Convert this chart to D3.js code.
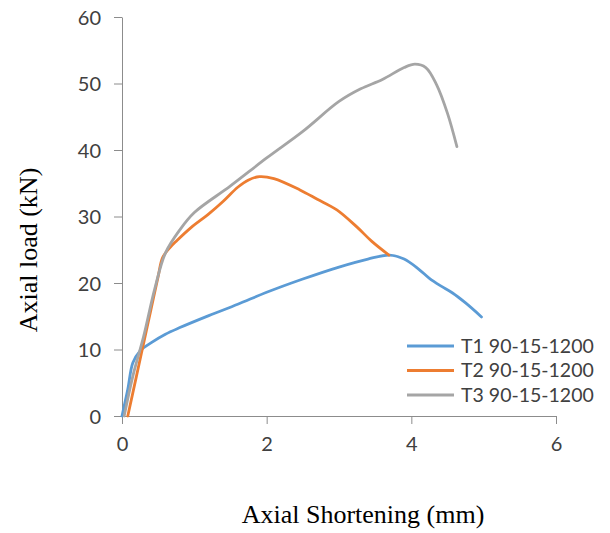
<!DOCTYPE html>
<html>
<head>
<meta charset="utf-8">
<script src="https://cdn.jsdelivr.net/npm/d3@7"></script>
<style>
  body { margin: 0; background: #fff; }
</style>
</head>
<body>
<div id="chart"></div>
<script>
// data: [shortening mm, load kN]
const t1 = [[0,0],[0.08,4],[0.15,8],[0.25,9.8],[0.4,11],[0.6,12.3],[0.8,13.3],[1.2,15.1],[1.6,16.8],[2,18.6],[2.5,20.6],[3,22.4],[3.4,23.6],[3.7,24.2],[3.9,23.6],[4.1,22.1],[4.25,20.7],[4.4,19.6],[4.57,18.5],[4.75,17],[4.97,14.9]]
const t2 = [[0.08,0],[0.2,6],[0.3,11],[0.4,16],[0.5,21],[0.56,23.8],[0.66,25.3],[0.76,26.4],[0.95,28.3],[1.2,30.4],[1.4,32.3],[1.6,34.4],[1.75,35.5],[1.9,36],[2.1,35.7],[2.46,34],[2.7,32.6],[2.97,31],[3.25,28.4],[3.45,26.3],[3.69,24.2]]
const t3 = [[0.03,0],[0.15,6],[0.3,12],[0.45,19],[0.6,24.5],[0.8,28],[1,30.6],[1.5,34.6],[2,38.8],[2.5,42.8],[3,47.3],[3.3,49.2],[3.6,50.6],[3.9,52.4],[4.05,52.9],[4.2,52.4],[4.35,49.8],[4.5,45.5],[4.63,40.5]]
const seriesNames = ["T1 90-15-1200", "T2 90-15-1200", "T3 90-15-1200"]
const colors = ["#5B9BD5", "#ED7D31", "#A5A5A5"]
const xTicks = [0, 2, 4, 6]
const yTicks = [0, 10, 20, 30, 40, 50, 60]

const W = 610, H = 533
const margin = {top: 17, left: 122, right: 54, bottom: 117}
const width = W - margin.left - margin.right,
      height = H - margin.top - margin.bottom

const svg = d3.select("#chart").append("svg")
    .attr("width", W)
    .attr("height", H)

const g = svg.append("g")
    .attr("transform", "translate(" + margin.left + "," + margin.top + ")")

const x = d3.scaleLinear().domain([0, 6]).range([0, width])
const y = d3.scaleLinear().domain([0, 60]).range([height, 0])

const xAxis = g.append("g")
    .attr("transform", `translate(0,${height})`)
    .call(d3.axisBottom(x).tickValues(xTicks).tickFormat(d3.format("d")).tickSize(8).tickSizeOuter(0).tickPadding(13))
const yAxis = g.append("g")
    .call(d3.axisLeft(y).tickValues(yTicks).tickFormat(d3.format("d")).tickSize(8).tickSizeOuter(0).tickPadding(13))

for (const ax of [xAxis, yAxis]) {
  ax.select(".domain").attr("stroke", "#8c8c8c")
  ax.selectAll(".tick line").attr("stroke", "#8c8c8c")
  ax.selectAll(".tick text")
    .attr("fill", "#404040")
    .style("font-family", "Lato, 'Open Sans', sans-serif")
    .style("font-size", "20px")
}
yAxis.selectAll(".tick text").attr("dy", "0.35em")

const line = d3.line()
    .x(d => x(d[0]))
    .y(d => y(d[1]))
    .curve(d3.curveCatmullRom.alpha(0.5))

const all = [t1, t2, t3]
all.forEach((s, i) => {
  g.append("path")
    .datum(s)
    .attr("fill", "none")
    .attr("stroke", colors[i])
    .attr("stroke-width", 2.8)
    .attr("stroke-linejoin", "round")
    .attr("stroke-linecap", "round")
    .attr("d", line)
})

// legend
const legend = svg.append("g").attr("transform", "translate(407,346)")
seriesNames.forEach((name, i) => {
  const row = legend.append("g").attr("transform", `translate(0,${i * 24.5})`)
  row.append("line")
    .attr("x1", 0).attr("x2", 47)
    .attr("stroke", colors[i]).attr("stroke-width", 2.8)
  row.append("text")
    .attr("x", 54).attr("dy", "0.35em")
    .attr("fill", "#404040")
    .style("font-family", "Lato, 'Open Sans', sans-serif")
    .style("font-size", "19.5px")
    .text(name)
})

// axis titles
svg.append("text")
    .attr("x", 363).attr("y", 523)
    .attr("text-anchor", "middle")
    .style("font-family", "'Liberation Serif', serif")
    .style("font-size", "26px")
    .text("Axial Shortening (mm)")

svg.append("text")
    .attr("transform", "translate(37,250) rotate(-90)")
    .attr("text-anchor", "middle")
    .style("font-family", "'Liberation Serif', serif")
    .style("font-size", "26px")
    .text("Axial load (kN)")
</script>
</body>
</html>
